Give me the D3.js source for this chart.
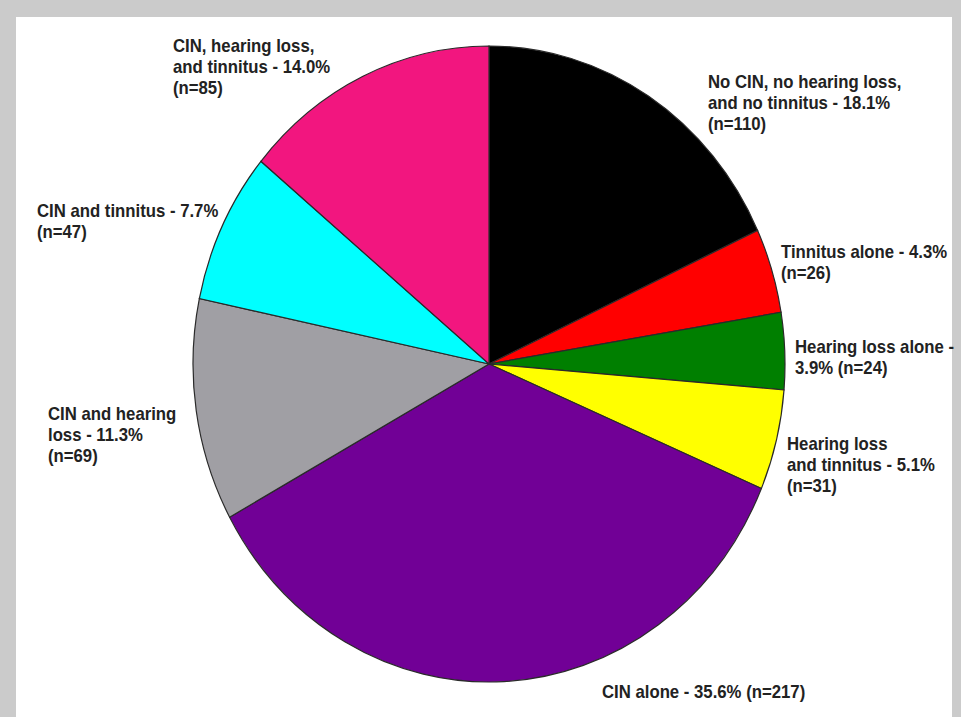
<!DOCTYPE html>
<html>
<head>
<meta charset="utf-8">
<script src="https://cdn.jsdelivr.net/npm/d3@7"></script>
<style>
  body { margin: 0; background: #cbcbcb; }
  .label { font-family: "Liberation Sans", Arial, sans-serif; font-weight: bold; font-size: 18px; fill: #222; }
</style>
</head>
<body>
<svg id="chart" width="961" height="717"></svg>
<script>
// slices, clockwise from 12 o'clock
var categories = ["No CIN, no hearing loss, and no tinnitus", "Tinnitus alone", "Hearing loss alone",
    "Hearing loss and tinnitus", "CIN alone", "CIN and hearing loss", "CIN and tinnitus",
    "CIN, hearing loss, and tinnitus"];
var percents = [18.1, 4.3, 3.9, 5.1, 35.6, 11.3, 7.7, 14.0];
var counts = [110, 26, 24, 31, 217, 69, 47, 85];
var colors = ["#000000", "#ff0000", "#007f00", "#ffff00", "#710096", "#a09fa4", "#00ffff", "#f2167f"];

// label text, broken into lines as in the figure
var labelLines = [
    ["No CIN, no hearing loss,", "and no tinnitus - 18.1%", "(n=110)"],
    ["Tinnitus alone - 4.3%", "(n=26)"],
    ["Hearing loss alone -", "3.9% (n=24)"],
    ["Hearing loss", "and tinnitus - 5.1%", "(n=31)"],
    ["CIN alone - 35.6% (n=217)"],
    ["CIN and hearing", "loss - 11.3%", "(n=69)"],
    ["CIN and tinnitus - 7.7%", "(n=47)"],
    ["CIN, hearing loss,", "and tinnitus - 14.0%", "(n=85)"]
];
// left x and first baseline of each label
var labelPos = [[708, 88], [781, 258], [795, 353], [787, 450], [602, 698], [48, 420], [37, 217], [173, 52]];

var svg = d3.select("#chart");

svg.append("rect").attr("x", 16).attr("y", 17).attr("width", 936).attr("height", 700)
    .attr("fill", "#ffffff");

var r = 300, cx = 489, cy = 364, rx = 296, ry = 318;

var pie = d3.pie().sort(null).value(function(d) { return d; });
var arc = d3.arc().innerRadius(0).outerRadius(r);

var g = svg.append("g")
    .attr("transform", "translate(" + cx + "," + cy + ") scale(" + (rx / r) + "," + (ry / r) + ")");

g.selectAll("path")
    .data(pie(percents))
    .enter()
    .append("path")
    .attr("d", arc)
    .attr("fill", function(d, i) { return colors[i]; })
    .attr("stroke", "#2a2a2a")
    .attr("stroke-width", 1.2)
    .attr("vector-effect", "non-scaling-stroke");

var labels = svg.selectAll("text.label")
    .data(labelLines)
    .enter()
    .append("text")
    .attr("class", "label")
    .attr("transform", function(d, i) {
        return "translate(" + labelPos[i][0] + "," + labelPos[i][1] + ") scale(0.93,1)";
    });

labels.selectAll("tspan")
    .data(function(d) { return d; })
    .enter()
    .append("tspan")
    .attr("x", 0)
    .attr("y", function(d, j) { return j * 21; })
    .text(function(d) { return d; });
</script>
</body>
</html>
